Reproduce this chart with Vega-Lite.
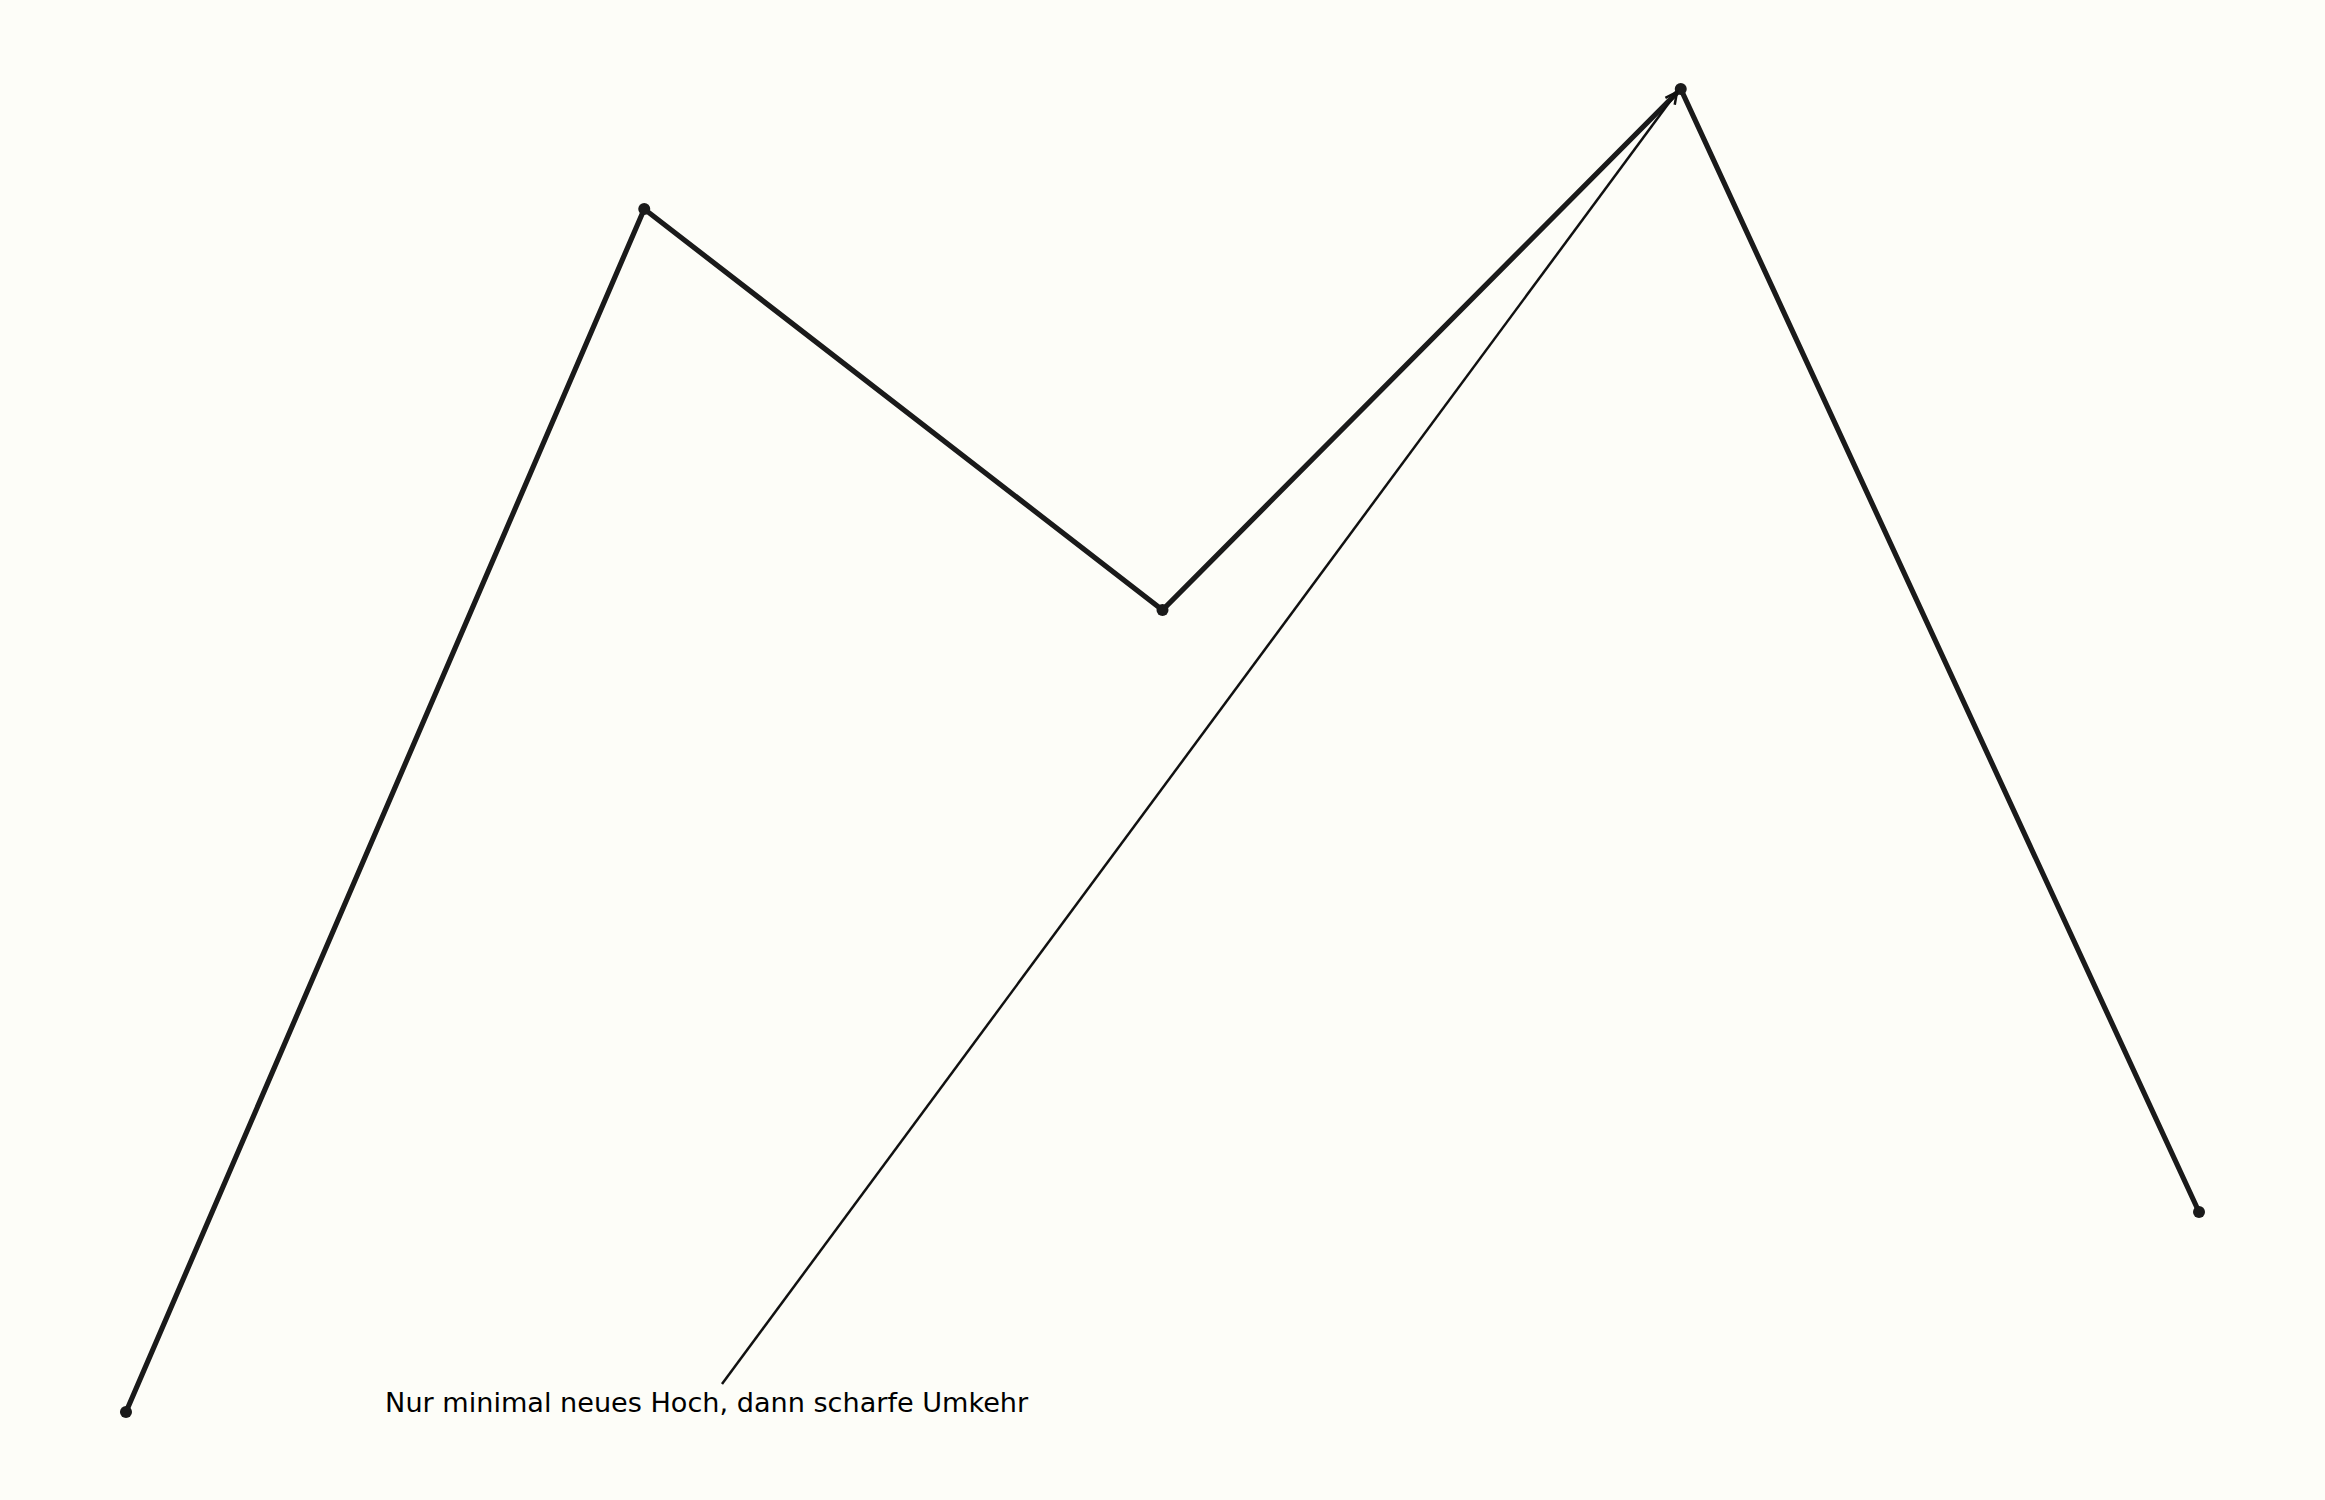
{
  "$schema": "https://vega.github.io/schema/vega-lite/v6.json",
  "width": 2325,
  "height": 1500,
  "autosize": {"type": "fit", "contains": "padding"},
  "padding": 0,
  "background": "#fdfdf8",
  "config": {"view": {"stroke": null}},
  "datasets": {
    "pivots": [
      {"step": 0, "price": 100.0},
      {"step": 1, "price": 220.3},
      {"step": 2, "price": 180.2},
      {"step": 3, "price": 232.3},
      {"step": 4, "price": 120.0}
    ],
    "note": [
      {"x": 1.15, "y": 102.8, "x2": 2.9927, "y2": 232.0, "tx": 0.5, "ty": 100.0, "label": "Nur minimal neues Hoch, dann scharfe Umkehr"}
    ]
  },
  "layer": [
    {
      "data": {"name": "pivots"},
      "mark": {"type": "line", "color": "#1a1a1a", "strokeWidth": 5.2},
      "encoding": {
        "x": {"field": "step", "type": "quantitative", "scale": {"domain": [-0.2431, 4.2431], "nice": false, "zero": false}, "axis": null},
        "y": {"field": "price", "type": "quantitative", "scale": {"domain": [91.2, 241.2], "nice": false, "zero": false}, "axis": null}
      }
    },
    {
      "data": {"name": "pivots"},
      "mark": {"type": "point", "shape": "circle", "filled": true, "color": "#1a1a1a", "opacity": 1, "size": 145},
      "encoding": {
        "x": {"field": "step", "type": "quantitative"},
        "y": {"field": "price", "type": "quantitative"}
      }
    },
    {
      "data": {"name": "note"},
      "mark": {"type": "rule", "color": "#111111", "strokeWidth": 2.5},
      "encoding": {
        "x": {"field": "x", "type": "quantitative"},
        "y": {"field": "y", "type": "quantitative"},
        "x2": {"field": "x2"},
        "y2": {"field": "y2"}
      }
    },
    {
      "data": {"name": "note"},
      "mark": {"type": "point", "shape": "M -0.5 1 L 0 0 L 0.5 1", "filled": false, "color": "#111111", "opacity": 1, "strokeWidth": 2.5, "size": 540, "angle": 36.5},
      "encoding": {
        "x": {"field": "x2", "type": "quantitative"},
        "y": {"field": "y2", "type": "quantitative"}
      }
    },
    {
      "data": {"name": "note"},
      "mark": {"type": "text", "align": "left", "baseline": "alphabetic", "font": "DejaVu Sans", "fontSize": 27.1, "color": "#000000"},
      "encoding": {
        "x": {"field": "tx", "type": "quantitative"},
        "y": {"field": "ty", "type": "quantitative"},
        "text": {"field": "label"}
      }
    }
  ]
}
